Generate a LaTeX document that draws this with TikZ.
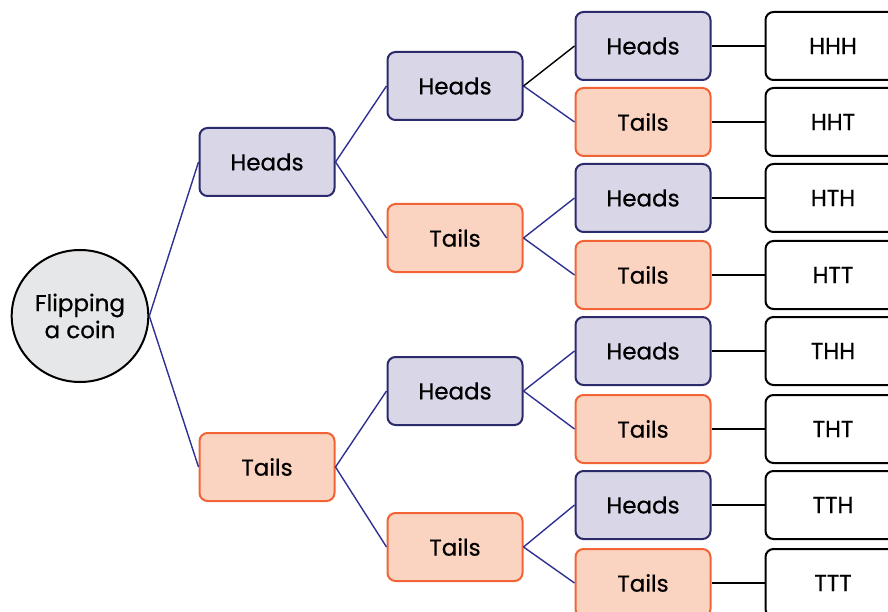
\documentclass[tikz,border=0pt]{standalone}
\usepackage{fontspec}
\setmainfont{Poppins}[FakeBold=0.6]
\usetikzlibrary{positioning, shapes.geometric}
\definecolor{headsfill}{HTML}{D9D6E8}
\definecolor{headsline}{HTML}{2B2A6B}
\definecolor{tailsfill}{HTML}{FBD3C1}
\definecolor{tailsline}{HTML}{F26436}
\definecolor{branch}{HTML}{2E3192}
\definecolor{startfill}{HTML}{E6E7E8}
\tikzset{
        every node/.style={font=\fontsize{23}{27}\selectfont}, % text size of all nodes
        box/.style={
		rounded corners=8pt,
		line width=2pt,
		minimum width=135pt,
		minimum height=68pt,
	  },
  		heads box/.style={box, fill=headsfill, draw=headsline},
  		tails box/.style={box, fill=tailsfill, draw=tailsline},
  		result box/.style={box, fill=white, draw=black},
  		branch line/.style={draw=branch, line width=1.4pt},
  		result line/.style={draw=black, line width=1.4pt},
  	}

\begin{document}
\begin{tikzpicture}[x=1pt, y=-1pt]
    \useasboundingbox (0,0) rectangle (888,612);
    \clip (0,0) rectangle (888,612);
    % start
    \node [ellipse, draw=black, line width=2pt, fill=startfill, minimum width=136pt, minimum height=132pt, align=center] (start) at (80,316) {Flipping\\[0pt]a coin};
    % first flip
    \node [heads box] (h) at (267,162) {Heads};
    \node [tails box] (t) at (267,467) {Tails};
    % second flip
    \node [heads box] (hh) at (455,86) {Heads};
    \node [tails box] (ht) at (455,238) {Tails};
    \node [heads box] (th) at (455,391) {Heads};
    \node [tails box] (tt) at (455,547) {Tails};
    % third flip
    \node [heads box] (hhh) at (643,46) {Heads};
    \node [tails box] (hht) at (643,122) {Tails};
    \node [heads box] (hth) at (643,198) {Heads};
    \node [tails box] (htt) at (643,275) {Tails};
    \node [heads box] (thh) at (643,351) {Heads};
    \node [tails box] (tht) at (643,429) {Tails};
    \node [heads box] (tth) at (643,505) {Heads};
    \node [tails box] (ttt) at (643,583) {Tails};
    % outcomes
    \foreach \o/\txt in {hhh/HHH, hht/HHT, hth/HTH, htt/HTT, thh/THH, tht/THT, tth/TTH, ttt/TTT}
      \node [result box, right=53pt of \o] (r\o) {\txt};
    % branches
    \draw [branch line] (start.east) -- (h.west);
    \draw [branch line] (start.east) -- (t.west);
    \foreach \a/\b in {h/ht, t/th, t/tt, hh/hht, ht/hth, ht/htt, th/thh, th/tht, tt/tth, tt/ttt}
      \draw [branch line] (\a.east) -- (\b.west);
    \draw [branch line] (h.east) -- (hh.west);
    \draw [result line] (hh.east) -- (hhh.west);
    \foreach \o in {hhh, hht, hth, htt, thh, tht, tth, ttt}
      \draw [result line] (\o.east) -- (r\o.west);
  \end{tikzpicture}
\end{document}
